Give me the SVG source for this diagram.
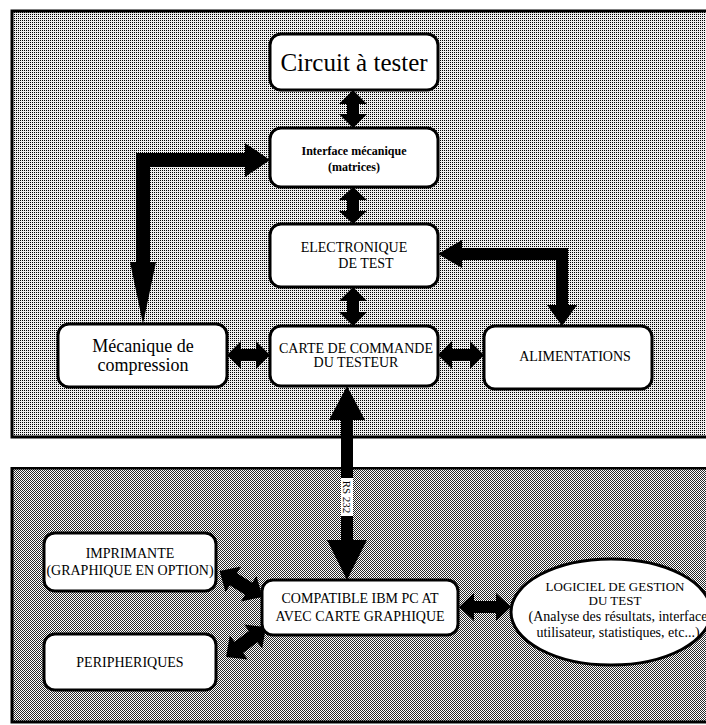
<svg xmlns="http://www.w3.org/2000/svg" width="706" height="725" viewBox="0 0 706 725">
<style>
.box{fill:#fff;stroke:#000;stroke-width:3}
.t{font-family:"Liberation Serif","Times New Roman",serif;fill:#000;text-anchor:middle}
.arr{fill:#000}
</style>
<defs>
<pattern id="pTop" width="2" height="2" patternUnits="userSpaceOnUse">
<rect width="2" height="2" fill="#eee"/>
<rect x="0" y="0" width="1" height="1" fill="#000"/>
</pattern>
<pattern id="pBot" width="2" height="2" patternUnits="userSpaceOnUse">
<rect width="2" height="2" fill="#fff"/>
<rect x="0" y="0" width="1" height="1" fill="#2a2a2a"/>
<rect x="1" y="1" width="1" height="1" fill="#2a2a2a"/>
</pattern>
</defs>
<rect width="706" height="725" fill="#fff"/>
<g id="panel-top"><rect x="12" y="11" width="700" height="426" fill="url(#pTop)" stroke="#000" stroke-width="3"/></g>
<g id="panel-bottom"><rect x="12" y="468" width="700" height="254" fill="url(#pBot)" stroke="#000" stroke-width="3"/></g>

<g id="connectors">
<polygon class="arr" points="353,90 367,104 359,104 359,114 367,114 353,128 339,114 347,114 347,104 339,104"/>
<polygon class="arr" points="353,187 367,200 359,200 359,211 367,211 353,224 339,211 347,211 347,200 339,200"/>
<polygon class="arr" points="353,287 367,301 359,301 359,312 367,312 353,326 339,312 347,312 347,301 339,301"/>
<polygon class="arr" points="227,355 241,341 241,349 256,349 256,341 270,355 256,369 256,361 241,361 241,369"/>
<polygon class="arr" points="438,355 452,341 452,349 470,349 470,341 484,355 470,369 470,361 452,361 452,369"/>
<polygon class="arr" points="136,153 245,153 245,143 270,160 245,177 245,167 150,167 150,262 156,262 143,324 130,262 136,262"/>
<polygon class="arr" points="438,254 462,240 462,248 568,248 568,305 577,305 562,326 547,305 556,305 556,260 462,260 462,268"/>
<rect x="0" y="439" width="706" height="28" fill="#fff"/>
<polygon class="arr" points="347,386 365,420 353,420 353,540 367,540 347,580 327,540 341,540 341,420 329,420"/>
<rect x="341" y="478" width="12" height="38" fill="#fff"/>
<text class="t" font-size="11" transform="translate(347,497) rotate(90)" dominant-baseline="central">RS 232</text>
<polygon class="arr" transform="translate(241,584) rotate(31)" points="-25,0 -9,-15 -9,-7 9,-7 9,-15 25,0 9,15 9,7 -9,7 -9,15"/>
<polygon class="arr" transform="translate(246,642) rotate(-37)" points="-25,0 -9,-15 -9,-7 9,-7 9,-15 25,0 9,15 9,7 -9,7 -9,15"/>
<polygon class="arr" points="459,607 474,593 474,601 496,601 496,593 511,607 496,621 496,613 474,613 474,621"/>
</g>

<g id="circuit"><rect class="box" x="270" y="34" width="168" height="56" rx="11"/>
<text class="t" font-size="25" x="354" y="71">Circuit à tester</text></g>
<g id="interface"><rect class="box" x="270" y="128" width="168" height="59" rx="11"/>
<text class="t" font-size="12" font-weight="bold" x="354" y="155">Interface mécanique</text>
<text class="t" font-size="12" font-weight="bold" x="354" y="171">(matrices)</text></g>
<g id="electronique"><rect class="box" x="270" y="224" width="168" height="63" rx="11"/>
<text class="t" font-size="14" x="354" y="252">ELECTRONIQUE</text>
<text class="t" font-size="14" x="366" y="268">DE TEST</text></g>
<g id="carte"><rect class="box" x="270" y="326" width="168" height="60" rx="11"/>
<text class="t" font-size="14" x="356" y="353">CARTE DE COMMANDE</text>
<text class="t" font-size="14" x="356" y="367">DU TESTEUR</text></g>
<g id="mecanique"><rect class="box" x="58" y="324" width="169" height="63" rx="11"/>
<text class="t" font-size="18" x="143" y="352">Mécanique de</text>
<text class="t" font-size="18" x="143" y="371">compression</text></g>
<g id="alimentations"><rect class="box" x="484" y="326" width="168" height="63" rx="11"/>
<text class="t" font-size="14" x="575" y="361">ALIMENTATIONS</text></g>

<g id="imprimante"><rect class="box" x="44" y="533" width="172" height="58" rx="11"/>
<text class="t" font-size="14" x="130" y="558">IMPRIMANTE</text>
<text class="t" font-size="14" x="130" y="575">(GRAPHIQUE EN OPTION)</text></g>
<g id="peripheriques"><rect class="box" x="44" y="634" width="172" height="56" rx="11"/>
<text class="t" font-size="14" x="130" y="667">PERIPHERIQUES</text></g>
<g id="compatible"><rect class="box" x="262" y="580" width="196" height="55" rx="11"/>
<text class="t" font-size="14" x="360" y="603">COMPATIBLE IBM PC AT</text>
<text class="t" font-size="14" x="360" y="621">AVEC CARTE GRAPHIQUE</text></g>
<g id="logiciel"><ellipse cx="611" cy="612" rx="100" ry="53" fill="#fff" stroke="#000" stroke-width="3"/>
<text class="t" font-size="13" x="615" y="591">LOGICIEL DE GESTION</text>
<text class="t" font-size="13" x="615" y="605">DU TEST</text>
<text class="t" font-size="14" x="618" y="621">(Analyse des résultats, interface</text>
<text class="t" font-size="14" x="618" y="637">utilisateur, statistiques, etc...)</text></g>
</svg>
